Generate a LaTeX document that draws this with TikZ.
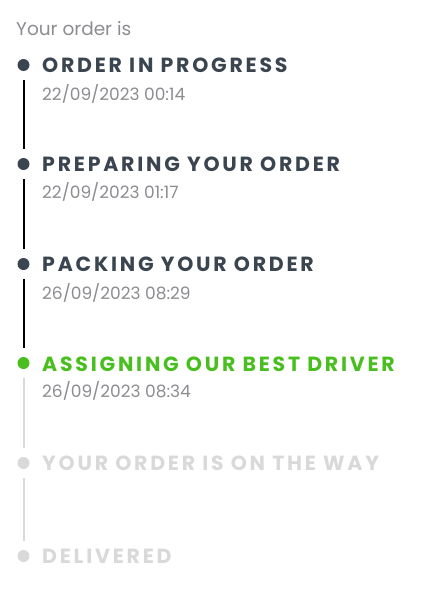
\documentclass[tikz,border=0pt]{standalone}
\usepackage{fontspec}
\setmainfont{Poppins}
\newfontfamily\stagefont[LetterSpace=13.5]{Poppins}
\definecolor{slate}{HTML}{3B4550}
\definecolor{go}{HTML}{48BF1F}
\definecolor{muted}{HTML}{8C8C91}
\definecolor{faded}{HTML}{D9D9D9}
\def\dotx{23.5}
\def\textx{42}

\begin{document}
\begin{tikzpicture}[x=1pt, y=-1pt]
	\tikzstyle{dot}   = [circle, minimum size=12pt, inner sep=0pt]
	\tikzstyle{stage} = [anchor=base west, inner sep=0pt, font=\stagefont\bfseries\fontsize{20.5}{20.5}\selectfont]
	\tikzstyle{stamp} = [anchor=base west, inner sep=0pt, text=muted, font=\fontsize{17}{17}\selectfont]
	\tikzstyle{link}  = [line width=2pt, shorten <=9pt, shorten >=9pt]
	\useasboundingbox (0, 0) rectangle (423, 589);

	\node [anchor=base west, inner sep=0pt, text=muted, font=\fontsize{18.5}{18.5}\selectfont] (head) at (16, 35) {Your order is};

	%%Steps
	\node [dot, fill=slate](d1) at (\dotx, 65) {};
	\node [stage, text=slate](s1) at (\textx, 72) {ORDER IN PROGRESS};
	\node [stamp](t1) at (\textx, 100) {22/09/2023 00:14};

	\node [dot, fill=slate](d2) at (\dotx, 164) {};
	\node [stage, text=slate](s2) at (\textx, 171) {PREPARING YOUR ORDER};
	\node [stamp](t2) at (\textx, 198) {22/09/2023 01:17};

	\node [dot, fill=slate](d3) at (\dotx, 264) {};
	\node [stage, text=slate](s3) at (\textx, 271) {PACKING YOUR ORDER};
	\node [stamp](t3) at (\textx, 299) {26/09/2023 08:29};

	\node [dot, fill=go](d4) at (\dotx, 363) {};
	\node [stage, text=go](s4) at (\textx, 371) {ASSIGNING OUR BEST DRIVER};
	\node [stamp](t4) at (\textx, 397) {26/09/2023 08:34};

	\node [dot, fill=faded](d5) at (\dotx, 463) {};
	\node [stage, text=faded](s5) at (\textx, 470) {YOUR ORDER IS ON THE WAY};

	\node [dot, fill=faded](d6) at (\dotx, 556) {};
	\node [stage, text=faded](s6) at (\textx, 563) {DELIVERED};

	%%Links
	\draw [link, black](d1)--(d2);
	\draw [link, black](d2)--(d3);
	\draw [link, black](d3)--(d4);
	\draw [link, faded](d4)--(d5);
	\draw [link, faded](d5)--(d6);
\end{tikzpicture}
\end{document}
